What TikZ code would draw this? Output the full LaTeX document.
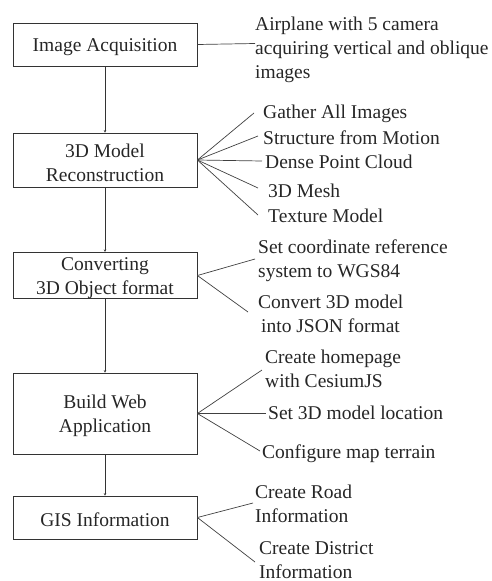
\documentclass[tikz,border=0pt]{standalone}
\usepackage{fontspec}
\setmainfont{Liberation Serif}
\usetikzlibrary{arrows.meta}
% taller first line, to sit the box labels a little lower
\newcommand{\labelstrut}{\rule{0pt}{18.3pt}}
\begin{document}
\begin{tikzpicture}[x=1pt,y=-1pt,
  every node/.style={font=\fontsize{19.5}{24}\selectfont, inner sep=0pt, text=black!85},
  stage/.style={draw=black!80, line width=0.8pt, minimum width=184pt, align=center},
  note/.style={anchor=base west, align=left},
  link/.style={draw=black!75, line width=0.7pt},
  flow/.style={draw=black!80, line width=0.7pt, -{Stealth[length=2.5pt,width=2.5pt]}}]
\useasboundingbox (0,0) rectangle (491,581);

% process stages
\node[stage, minimum height=43pt] (acq)  at (105,44.5)  {\labelstrut Image Acquisition};
\node[stage, minimum height=54pt] (rec)  at (105,160)   {\labelstrut 3D Model\\Reconstruction};
\node[stage, minimum height=43pt] (conv) at (105,275.5) {\labelstrut Converting\\3D Object format};
\node[stage, minimum height=81pt] (web)  at (105,413.5) {\labelstrut Build Web\\Application};
\node[stage, minimum height=43pt] (gis)  at (105,517.5) {\labelstrut GIS Information};

% flow between stages
\draw[flow] (acq) -- (rec);
\draw[flow] (rec) -- (conv);
\draw[flow] (conv) -- (web);
\draw[flow] (web) -- (gis);

% details of each stage (anchored on the baseline of the last line)
\node[note] (n1) at (255,78) {Airplane with 5 camera\\acquiring vertical and oblique\\images};

\node[note] (n2a) at (263,118) {Gather All Images};
\node[note] (n2b) at (263,144) {Structure from Motion};
\node[note] (n2c) at (265,168) {Dense Point Cloud};
\node[note] (n2d) at (268,197) {3D Mesh};
\node[note] (n2e) at (268,222) {Texture Model};

\node[note] (n3a) at (258,277) {Set coordinate reference\\system to WGS84};
\node[note] (n3b) at (258,332) {Convert 3D model\\\hspace*{3pt}into JSON format};

\node[note] (n4a) at (265,387) {Create homepage\\with CesiumJS};
\node[note] (n4b) at (268,419) {Set 3D model location};
\node[note] (n4c) at (262,458) {Configure map terrain};

\node[note] (n5a) at (255,522) {Create Road\\Information};
\node[note] (n5b) at (259,578) {Create District\\Information};

% free ends of the detail connectors
\coordinate (e1)  at (255,43.5);
\coordinate (e2a) at (254,113);
\coordinate (e2b) at (258,136);
\coordinate (e2c) at (262,161);
\coordinate (e2d) at (258,188);
\coordinate (e2e) at (258,215);
\coordinate (e3a) at (255,259);
\coordinate (e3b) at (248,312);
\coordinate (e4a) at (262,370);
\coordinate (e4b) at (266,413.5);
\coordinate (e4c) at (260,451);
\coordinate (e5a) at (253,503);
\coordinate (e5b) at (255,562);

\draw[link] (acq.east) -- (e1);
\foreach \e in {e2a,e2b,e2c,e2d,e2e} \draw[link] (rec.east) -- (\e);
\foreach \e in {e3a,e3b} \draw[link] (conv.east) -- (\e);
\foreach \e in {e4a,e4b,e4c} \draw[link] (web.east) -- (\e);
\foreach \e in {e5a,e5b} \draw[link] (gis.east) -- (\e);
\end{tikzpicture}
\end{document}
